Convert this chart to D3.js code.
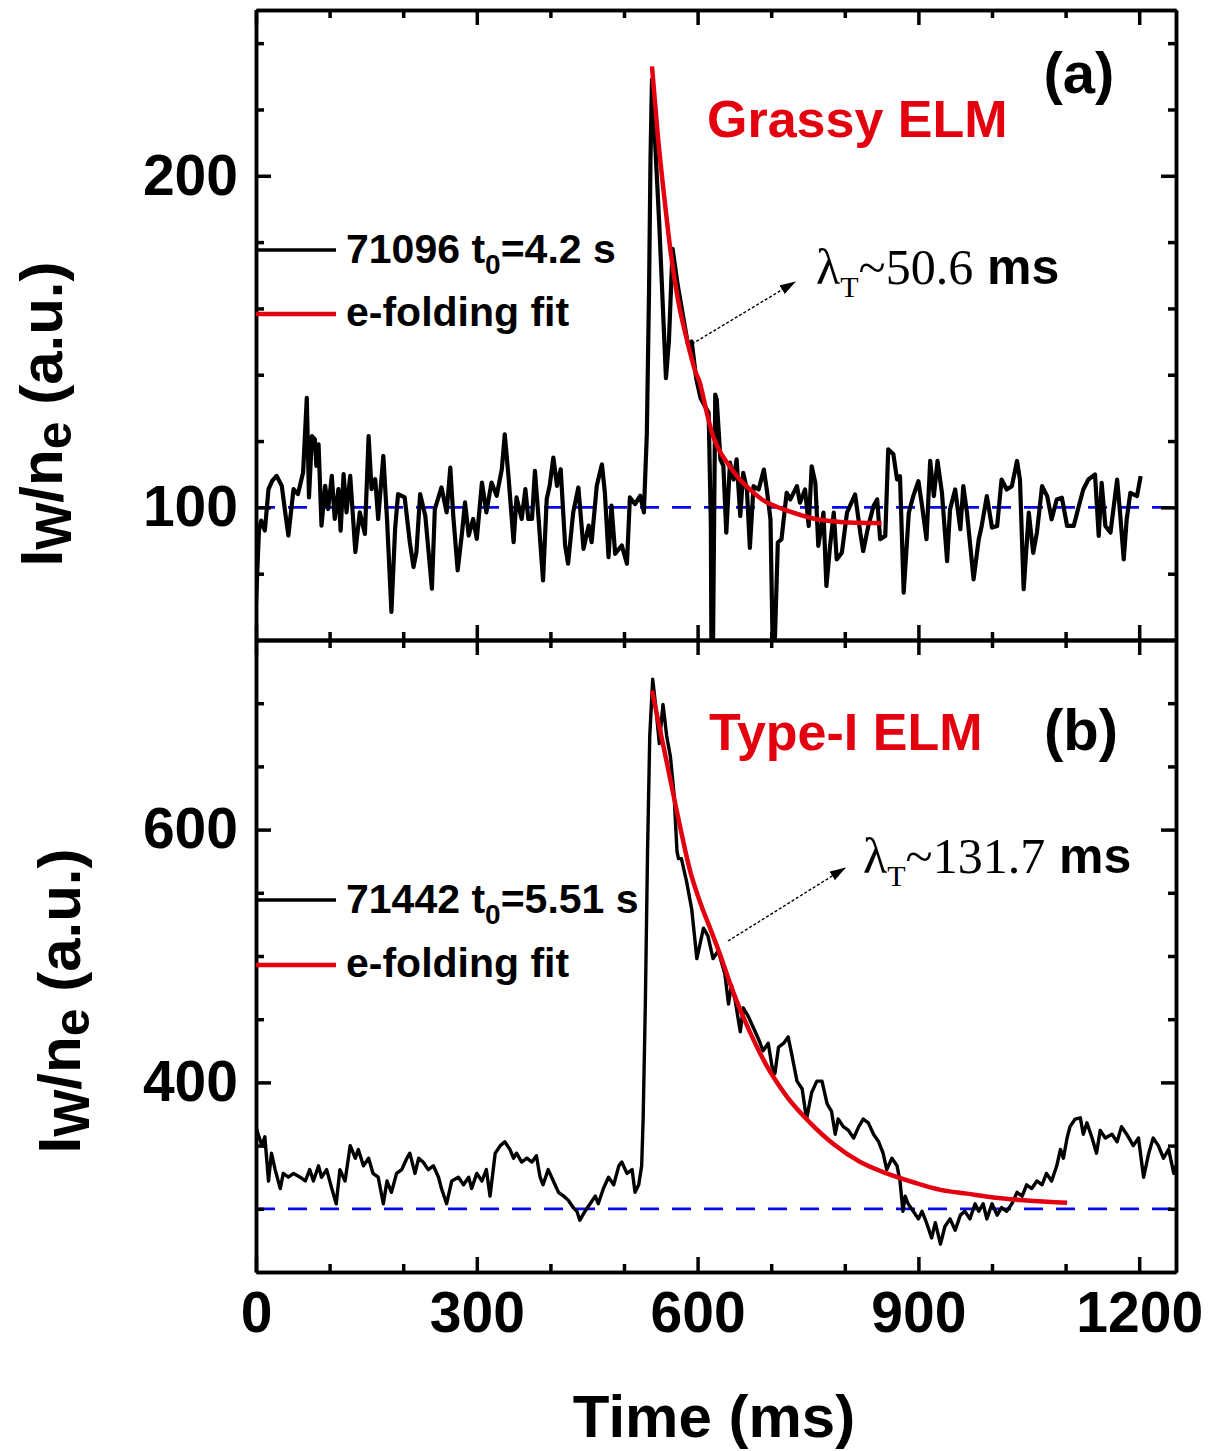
<!DOCTYPE html>
<html>
<head>
<meta charset="utf-8">
<script src="https://cdn.jsdelivr.net/npm/d3@7"></script>
<style>
body { margin: 0; background: #fff; }
text { font-family: "Liberation Sans", Arial, sans-serif; font-weight: bold; }
</style>
</head>
<body>
<div id="chart"></div>
<script>
// ---- data ----
// (a) grassy ELM, shot 71096
var timeA = [0,4,7,12,17,22,28,35,40,44,51,57,64,69,72,76,80,82,85,89,94,98,103,107,112,115,119,123,128,135,141,148,153,157,162,166,173,178,184,189,193,202,209,214,218,223,230,239,243,252,259,264,268,274,280,284,289,295,300,307,313,320,327,334,338,343,350,354,361,366,370,375,379,384,390,395,399,404,409,414,420,424,431,438,445,452,456,463,470,474,479,483,488,497,504,508,515,522,527,531,534,536,538,548,557,561,566,573,580,587,592,598,604,610,615,618,619,621,624,626,631,635,639,644,649,653,658,662,667,671,676,683,690,694,699,703,705,709,714,721,726,735,739,746,751,755,760,764,771,775,780,785,789,796,803,814,821,825,832,839,844,848,855,859,866,871,875,880,887,893,900,905,911,916,921,926,932,939,943,950,957,961,966,975,982,986,993,1000,1007,1013,1020,1027,1034,1038,1043,1050,1056,1061,1068,1075,1081,1088,1095,1102,1111,1118,1124,1131,1140,1145,1149,1154,1161,1170,1174,1179,1183,1188,1197,1202];
var sigA = [71,93,96,93,105.5,108,109.5,106.5,98,91.5,105.5,104,110.5,133,103,121.5,120.5,112.5,119,94.5,106.5,99.5,109.5,96.5,105.5,93,110,98.5,109.5,86.5,98.5,92,121.5,105.5,108.5,96.5,115.5,96.5,68.5,93.5,104,103,89.5,82,86.5,104,97.5,75.5,99.5,106,98.5,112,97.5,81,92.5,101.5,91.5,96.5,90.5,107.5,98.5,107.5,103.5,111.5,122,109.5,89.5,103,96.5,105.5,96.5,96.5,111,96.5,78,102.5,106.5,115,106.5,111.5,88.5,83,98.5,106,87.5,94.5,89.5,106.5,113,104.5,85,100.5,86,88.5,83,103,101,103.5,98.5,122,165,205,229,185,139,150,178,167,158,149,150,139,133,130.5,128.5,95,45,60,134,132.5,114.5,112.5,92.4,113.5,108.4,114.5,97.4,110.4,105.4,87.8,106.4,105.4,111.4,105.4,96.4,45,60,89.4,90.4,104.4,102.4,106.4,101.4,105.4,94.4,112.4,107.4,88.4,98.4,76.3,88.4,98.4,84.3,86.3,98.4,103.9,92.4,86.8,94.4,100.4,102.4,90.4,91.4,117.5,116,108.4,109.4,74.3,98.4,103.4,107.9,100.4,90.4,114,103.4,114,104.4,83.8,99.4,105.4,93.4,106.4,98.4,78.3,90.4,94.4,103.4,93.9,94.4,108.4,105.4,106.4,114,108.4,75.3,98.4,86.3,92.4,106.4,103.4,96.4,102.4,102.9,94.4,94.4,100.4,105.4,108.4,109.9,91.4,107.4,94.4,92.4,108.4,98.4,84.3,96.4,104.4,103.4,109.4];
var fitTimeA = [538,546,555,564,573,585,597,603,612,621,630,640,655,671,690,717,740,762,785,807,830,850];
var fitA = [233,212,193,176,163,151,141,137.6,129,121.5,117,113.5,109,105.4,102,99.4,97.7,96.4,95.8,95.4,95.3,95.2];
var baseA = 100;

// (b) type-I ELM, shot 71442
var timeB = [0,3,8,12,17,21,26,33,37,44,51,60,67,73,78,85,89,96,103,109,114,121,128,135,139,146,153,159,166,173,178,184,191,198,205,209,216,221,227,234,241,248,252,259,266,275,282,289,293,300,307,313,318,325,332,338,345,350,354,361,368,375,381,386,390,397,404,411,418,424,431,436,440,447,454,461,465,472,479,486,493,497,504,511,515,520,524,526,529,532,535,539,543,548,553,558,563,568,572,574,578,585,592,599,608,614,621,628,637,642,646,651,658,662,669,676,683,689,696,701,705,710,717,723,728,735,742,748,755,762,769,776,782,787,791,798,805,812,819,825,832,839,846,852,857,864,871,875,879,882,886,893,900,905,911,918,923,930,936,943,950,957,963,970,977,982,988,993,1000,1007,1013,1020,1027,1034,1041,1047,1054,1061,1068,1074,1081,1088,1093,1097,1102,1106,1113,1120,1124,1129,1136,1142,1147,1154,1163,1170,1176,1183,1192,1199,1206,1213,1219,1226,1233,1240,1247,1250];
var sigB = [365,359,350,357,322,344,331,316,328,325,328,325,322,331,322,334,325,331,316,304,331,322,350,340,347,334,340,328,325,304,322,313,328,331,340,344,328,340,337,331,334,325,316,304,322,325,319,325,316,328,322,331,310,344,350,353,347,340,344,337,340,337,342,325,319,331,322,313,310,307,301,298,291,298,304,310,304,316,325,319,334,337,328,331,313,319,334,371,462,583,674,719,698,668,699,674,658,628,583,577,577,559,537,498,522,516,498,504,486,462,477,465,440,459,452,443,434,425,431,413,407,428,431,436,422,401,395,371,392,401,401,383,377,359,371,365,362,356,365,371,368,359,353,344,331,340,334,322,298,310,304,298,292,298,289,277,289,272,286,292,283,295,298,292,304,298,304,292,304,295,301,298,304,313,310,319,316,322,319,328,322,334,347,340,356,365,371,372,359,368,356,344,362,356,359,353,365,359,350,356,325,344,356,350,340,347,328,334];
var fitTimeB = [538,555,572,590,605,617,630,648,671,694,721,753,785,821,857,893,930,966,1002,1038,1075,1102];
var fitB = [710,662,614,567,540,522,502,472,440,413,389,368,351,337,328,321,315,312,309,307,305.5,304.8];
var baseB = 300;

// ticks
var xMajor = [0, 300, 600, 900, 1200];
var xMinor = [100, 200, 400, 500, 700, 800, 1000, 1100];
var yMajorA = [100, 200];
var yMinorA = [80, 120, 140, 160, 180, 220, 240];
var yMajorB = [400, 600];
var yMinorB = [300, 350, 450, 500, 550, 650, 700];

// ---- layout ----
var W = 1212, H = 1451;
var L = 256, R = 1176, TOP = 10, MID = 640, BOT = 1272;
var RED = "#e3000f", BLUE = "#0a0ae6";

var svg = d3.select("#chart").append("svg")
  .attr("width", W).attr("height", H);

var x = d3.scaleLinear().domain([0, 1250]).range([L, R]);
var yA = d3.scaleLinear().domain([60, 250]).range([MID, TOP]);
var yB = d3.scaleLinear().domain([250, 750]).range([BOT, MID]);

var defs = svg.append("defs");
defs.append("clipPath").attr("id", "clipA").append("rect")
  .attr("x", L).attr("y", TOP).attr("width", R - L).attr("height", MID - TOP);
defs.append("clipPath").attr("id", "clipB").append("rect")
  .attr("x", L).attr("y", MID).attr("width", R - L).attr("height", BOT - MID);
defs.append("marker").attr("id", "arrow")
  .attr("markerUnits", "userSpaceOnUse")
  .attr("markerWidth", 16).attr("markerHeight", 10)
  .attr("refX", 15).attr("refY", 5).attr("orient", "auto")
  .append("path").attr("d", "M0,0L16,5L0,10z").attr("fill", "#000");

function panel(y, times, sig, fitT, fit, base, clip, sigWidth) {
  var g = svg.append("g").attr("clip-path", "url(#" + clip + ")");
  // baseline
  g.append("line")
    .attr("x1", L).attr("x2", R).attr("y1", y(base)).attr("y2", y(base))
    .attr("stroke", BLUE).attr("stroke-width", 2.8).attr("stroke-dasharray", "19,13");
  // signal
  var line = d3.line().x(function(d) { return x(d[0]); }).y(function(d) { return y(d[1]); });
  g.append("path")
    .datum(d3.zip(times, sig))
    .attr("d", line)
    .attr("fill", "none").attr("stroke", "#000")
    .attr("stroke-width", sigWidth).attr("stroke-linejoin", "round");
  // e-folding fit
  g.append("path")
    .datum(d3.zip(fitT, fit))
    .attr("d", line.curve(d3.curveMonotoneX))
    .attr("fill", "none").attr("stroke", RED).attr("stroke-width", 4.5);
}

panel(yA, timeA, sigA, fitTimeA, fitA, baseA, "clipA", 4.2);
panel(yB, timeB, sigB, fitTimeB, fitB, baseB, "clipB", 3.4);

// ---- axes ----
function styleAxis(g) {
  g.attr("font-family", "Liberation Sans, Arial, sans-serif")
   .attr("font-size", 57).attr("font-weight", "bold");
  g.selectAll("path, line").attr("stroke", "#000").attr("stroke-width", 3.5);
  g.selectAll("text").attr("fill", "#000");
}

function axes(y, yMajor, yMinor, top, bottom, xLabels) {
  // left
  svg.append("g").attr("transform", "translate(" + L + ",0)")
    .call(d3.axisLeft(y).tickValues(yMinor).tickSize(-8).tickSizeOuter(0).tickFormat(""))
    .call(styleAxis);
  svg.append("g").attr("transform", "translate(" + L + ",0)")
    .call(d3.axisLeft(y).tickValues(yMajor).tickSize(-15).tickSizeOuter(0).tickPadding(18))
    .call(styleAxis);
  // right
  svg.append("g").attr("transform", "translate(" + R + ",0)")
    .call(d3.axisRight(y).tickValues(yMinor).tickSize(-8).tickSizeOuter(0).tickFormat(""))
    .call(styleAxis);
  svg.append("g").attr("transform", "translate(" + R + ",0)")
    .call(d3.axisRight(y).tickValues(yMajor).tickSize(-15).tickSizeOuter(0).tickFormat(""))
    .call(styleAxis);
  // top
  svg.append("g").attr("transform", "translate(0," + top + ")")
    .call(d3.axisTop(x).tickValues(xMinor).tickSize(-8).tickSizeOuter(0).tickFormat(""))
    .call(styleAxis);
  svg.append("g").attr("transform", "translate(0," + top + ")")
    .call(d3.axisTop(x).tickValues(xMajor).tickSize(-15).tickSizeOuter(0).tickFormat(""))
    .call(styleAxis);
  // bottom
  svg.append("g").attr("transform", "translate(0," + bottom + ")")
    .call(d3.axisBottom(x).tickValues(xMinor).tickSize(-8).tickSizeOuter(0).tickFormat(""))
    .call(styleAxis);
  svg.append("g").attr("transform", "translate(0," + bottom + ")")
    .call(d3.axisBottom(x).tickValues(xMajor).tickSize(-15).tickSizeOuter(0)
      .tickPadding(20).tickFormat(xLabels ? d3.format("d") : ""))
    .call(styleAxis);
}

axes(yA, yMajorA, yMinorA, TOP, MID, false);
axes(yB, yMajorB, yMinorB, MID, BOT, true);

// ---- axis titles ----
function yTitle(cx, cy) {
  var t = svg.append("text")
    .attr("transform", "translate(" + cx + "," + cy + ") rotate(-90)")
    .attr("text-anchor", "middle").attr("font-size", 60);
  t.append("tspan").text("I");
  t.append("tspan").attr("font-size", 50).attr("dy", 9).text("W");
  t.append("tspan").attr("dy", -9).text("/n");
  t.append("tspan").attr("font-size", 50).attr("dy", 9).text("e");
  t.append("tspan").attr("dy", -9).text(" (a.u.)");
}
yTitle(62, 414);
yTitle(80, 1001);

svg.append("text")
  .attr("x", 714).attr("y", 1437)
  .attr("text-anchor", "middle").attr("font-size", 60)
  .text("Time (ms)");

// ---- legends ----
function legend(y1, y2, shot, t0) {
  svg.append("line").attr("x1", L).attr("x2", 336).attr("y1", y1).attr("y2", y1)
    .attr("stroke", "#000").attr("stroke-width", 3.5);
  svg.append("line").attr("x1", L).attr("x2", 336).attr("y1", y2).attr("y2", y2)
    .attr("stroke", RED).attr("stroke-width", 4.5);
  var t = svg.append("text").attr("x", 346).attr("y", y1 + 13).attr("font-size", 41);
  t.append("tspan").text(shot + " t");
  t.append("tspan").attr("font-size", 28).attr("dy", 11).text("0");
  t.append("tspan").attr("dy", -11).text("=" + t0 + " s");
  svg.append("text").attr("x", 346).attr("y", y2 + 12).attr("font-size", 41)
    .text("e-folding fit");
}
legend(250, 314, "71096", "4.2");
legend(900, 965, "71442", "5.51");

// ---- panel labels ----
svg.append("text").attr("x", 707).attr("y", 137).attr("font-size", 52)
  .attr("fill", RED).text("Grassy ELM");
svg.append("text").attr("x", 1079).attr("y", 93).attr("font-size", 58)
  .attr("text-anchor", "middle").text("(a)");
svg.append("text").attr("x", 709).attr("y", 750).attr("font-size", 52)
  .attr("fill", RED).text("Type-I ELM");
svg.append("text").attr("x", 1081).attr("y", 750).attr("font-size", 58)
  .attr("text-anchor", "middle").text("(b)");

// ---- decay-time annotations ----
function decay(tx, ty, val, x1, y1, x2, y2) {
  svg.append("line")
    .attr("x1", x1).attr("y1", y1).attr("x2", x2).attr("y2", y2)
    .attr("stroke", "#000").attr("stroke-width", 1.4)
    .attr("stroke-dasharray", "3,2").attr("marker-end", "url(#arrow)");
  var t = svg.append("text").attr("x", tx).attr("y", ty)
    .attr("font-size", 50)
    .style("font-family", "'Liberation Serif', 'Times New Roman', serif")
    .style("font-weight", "normal");
  t.append("tspan").text("\u03bb");
  t.append("tspan").attr("font-size", 30).attr("dy", 13).text("T");
  t.append("tspan").attr("dy", -13).text("~" + val);
  t.append("tspan")
    .style("font-family", "'Liberation Sans', Arial, sans-serif")
    .style("font-weight", "bold")
    .text(" ms");
}
decay(816, 284, "50.6", 692, 344, 795, 282);
decay(863, 873, "131.7", 728, 941, 845, 868);
</script>
</body>
</html>
